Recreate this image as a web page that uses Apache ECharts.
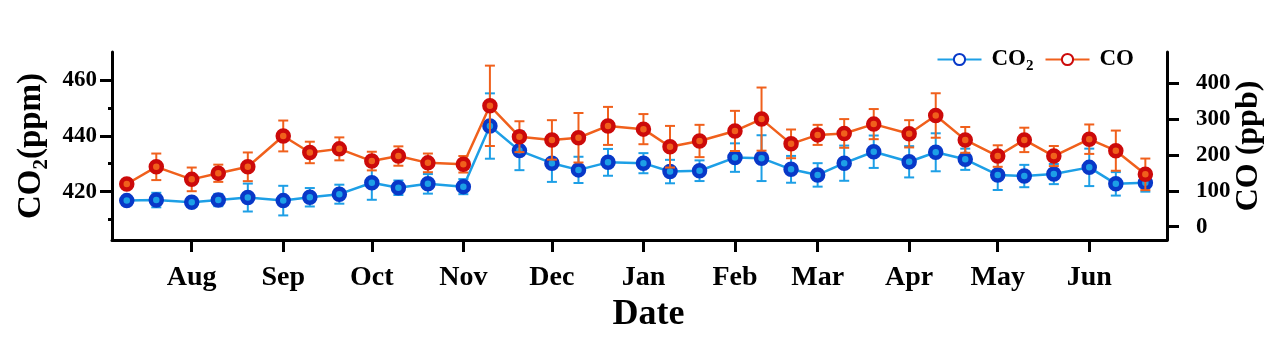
<!DOCTYPE html>
<html>
<head>
<meta charset="utf-8">
<script src="https://cdn.jsdelivr.net/npm/echarts@6/dist/echarts.min.js"></script>
<style>
html,body{margin:0;padding:0;background:#fff;}
#chart{width:1268px;height:341px;}
</style>
</head>
<body>
<div id="chart"></div>
<script>
// ---- data ----
const dates = ['2018-07-10','2018-07-20','2018-08-01','2018-08-10','2018-08-20','2018-09-01','2018-09-10','2018-09-20',
  '2018-10-01','2018-10-10','2018-10-20','2018-11-01','2018-11-10','2018-11-20','2018-12-01','2018-12-10','2018-12-20',
  '2019-01-01','2019-01-10','2019-01-20','2019-02-01','2019-02-10','2019-02-20','2019-03-01','2019-03-10','2019-03-20',
  '2019-04-01','2019-04-10','2019-04-20','2019-05-01','2019-05-10','2019-05-20','2019-06-01','2019-06-10','2019-06-20'];
const co2 = [416.8,417.0,416.2,417.0,417.9,416.8,418.0,419.1,423.2,421.4,422.8,421.8,443.5,434.7,430.2,427.8,430.5,
  430.2,427.2,427.5,432.2,432.0,428.0,426.0,430.2,434.3,430.7,434.1,431.6,426.0,425.6,426.3,428.7,422.8,423.2];
const co2Err = [1.5,2.6,1.5,2.2,5.0,5.3,3.3,3.4,6.1,2.6,3.5,2.7,11.7,7.0,6.7,4.7,4.8,3.6,4.2,3.7,5.1,8.2,4.8,4.2,
  6.3,5.8,5.6,6.8,3.8,5.4,4.0,3.6,6.7,4.2,3.2];
const co = [119,167,132,149,167,253,207,217,183,197,178,174,337,251,242,248,281,272,223,239,267,300,231,256,
  260,286,259,310,242,197,242,197,244,212,146];
const coErr = [10,37,33,24,40,43,30,32,26,27,26,23,112,43,55,69,53,42,58,45,56,88,40,28,40,42,38,62,36,30,34,28,41,56,44];
const monthTicks = ['2018-08-01','2018-09-01','2018-10-01','2018-11-01','2018-12-01','2019-01-01','2019-02-01',
  '2019-03-01','2019-04-01','2019-05-01','2019-06-01'];
const monthNames = ['Jan','Feb','Mar','Apr','May','Jun','Jul','Aug','Sep','Oct','Nov','Dec'];
const co2Major = [420,440,460];
const co2Minor = [410,430,450];
const coTicks = [0,100,200,300,400];

// ---- helpers ----
const ts = s => { const p = s.split('-').map(Number); return Date.UTC(p[0], p[1]-1, p[2]); };
const FONT = 'Liberation Serif';
const CO2_LINE = '#1d9fe6', CO2_RING = '#0838c8';
const CO_LINE = '#f0601c', CO_RING = '#cc0a0a';

const co2Data = dates.map((d,i)=>[ts(d), co2[i]]);
const coData = dates.map((d,i)=>[ts(d), co[i]]);
const co2ErrData = dates.map((d,i)=>[ts(d), co2[i]-co2Err[i], co2[i]+co2Err[i]]);
const coErrData = dates.map((d,i)=>[ts(d), co[i]-coErr[i], co[i]+coErr[i]]);

function errRender(color){
  return function(params, api){
    const x = api.value(0);
    const lo = api.coord([x, api.value(1)]);
    const hi = api.coord([x, api.value(2)]);
    const w = 5;
    const st = {stroke: color, lineWidth: 2};
    return {type:'group', children:[
      {type:'line', shape:{x1:lo[0], y1:lo[1], x2:hi[0], y2:hi[1]}, style:st},
      {type:'line', shape:{x1:hi[0]-w, y1:hi[1], x2:hi[0]+w, y2:hi[1]}, style:st},
      {type:'line', shape:{x1:lo[0]-w, y1:lo[1], x2:lo[0]+w, y2:lo[1]}, style:st}
    ]};
  };
}

const axisLine = {show:true, onZero:false, lineStyle:{color:'#000', width:3}};
const labelStyle = size => ({color:'#000', fontFamily:FONT, fontWeight:'bold', fontSize:size});

const chart = echarts.init(document.getElementById('chart'));
chart.setOption({
  animation:false,
  backgroundColor:'#fff',
  grid:{left:112, right:101, top:52, bottom:101, containLabel:false, outerBoundsMode:'none'},
  legend:{
    right:129, top:43, itemWidth:44, itemHeight:14, itemGap:11,
    data:['CO2','CO'],
    itemStyle:{color:'#fff'},
    formatter: n => n === 'CO2' ? '{b|CO}{s|2}' : '{b|CO}',
    textStyle:{color:'#000', padding:[0,0,0,5], rich:{
      b:{fontFamily:FONT, fontWeight:'bold', fontSize:23, lineHeight:28, color:'#000'},
      s:{fontFamily:FONT, fontWeight:'bold', fontSize:15, verticalAlign:'bottom', color:'#000'}
    }}
  },
  xAxis:{
    type:'value',
    min: Date.UTC(2018,6,5), max: Date.UTC(2019,5,27,8),
    axisLine: axisLine,
    axisTick:{show:true, inside:false, customValues: monthTicks.map(ts), length:12, lineStyle:{color:'#000', width:3}},
    axisLabel:Object.assign({customValues: monthTicks.map(ts), margin:24,
      formatter: v => monthNames[new Date(v).getUTCMonth()]}, labelStyle(28)),
    splitLine:{show:false},
    name:'Date', nameLocation:'middle', nameGap:54,
    nameTextStyle:Object.assign({padding:[0,0,0,18]}, labelStyle(36))
  },
  yAxis:[
    {
      type:'value', position:'left', min:402.7, max:470,
      axisLine: axisLine,
      axisTick:{show:true, inside:false, customValues:co2Major, length:12, lineStyle:{color:'#000', width:3}},
      axisLabel:Object.assign({customValues:co2Major, margin:15}, labelStyle(23)),
      splitLine:{show:false},
      name:'{b|CO}{s|2}{b|(ppm)}', nameLocation:'middle', nameGap:60,
      nameTextStyle:{rich:{
        b:{fontFamily:FONT, fontWeight:'bold', fontSize:33, lineHeight:40, color:'#000'},
        s:{fontFamily:FONT, fontWeight:'bold', fontSize:21, verticalAlign:'bottom', color:'#000'}
      }}
    },
    {
      type:'value', position:'left', min:402.7, max:470,
      axisLine:{show:false},
      axisTick:{show:true, inside:false, customValues:co2Minor, length:4, lineStyle:{color:'#000', width:3}},
      axisLabel:{show:false},
      splitLine:{show:false}
    },
    {
      type:'value', position:'right', min:-37, max:487,
      axisLine: axisLine,
      axisTick:{show:true, inside:false, customValues:coTicks, length:12, lineStyle:{color:'#000', width:3}},
      axisLabel:Object.assign({customValues:coTicks, margin:29}, labelStyle(23)),
      splitLine:{show:false},
      name:'CO (ppb)', nameLocation:'middle', nameGap:66, nameMoveOverlap:false,
      nameTextStyle:labelStyle(32)
    }
  ],
  series:[
    {type:'custom', name:'co2err', yAxisIndex:0, data:co2ErrData, renderItem:errRender(CO2_LINE),
      encode:{x:0, y:[1,2]}, silent:true, z:2},
    {type:'line', name:'CO2', yAxisIndex:0, data:co2Data, symbol:'circle', symbolSize:11,
      lineStyle:{color:CO2_LINE, width:2.5}, itemStyle:{color:CO2_LINE, borderColor:CO2_RING, borderWidth:4.5}, z:3},
    {type:'custom', name:'coerr', yAxisIndex:2, data:coErrData, renderItem:errRender(CO_LINE),
      encode:{x:0, y:[1,2]}, silent:true, z:4},
    {type:'line', name:'CO', yAxisIndex:2, data:coData, symbol:'circle', symbolSize:11,
      lineStyle:{color:CO_LINE, width:2.5}, itemStyle:{color:CO_LINE, borderColor:CO_RING, borderWidth:4.5}, z:5}
  ]
});
</script>
</body>
</html>
